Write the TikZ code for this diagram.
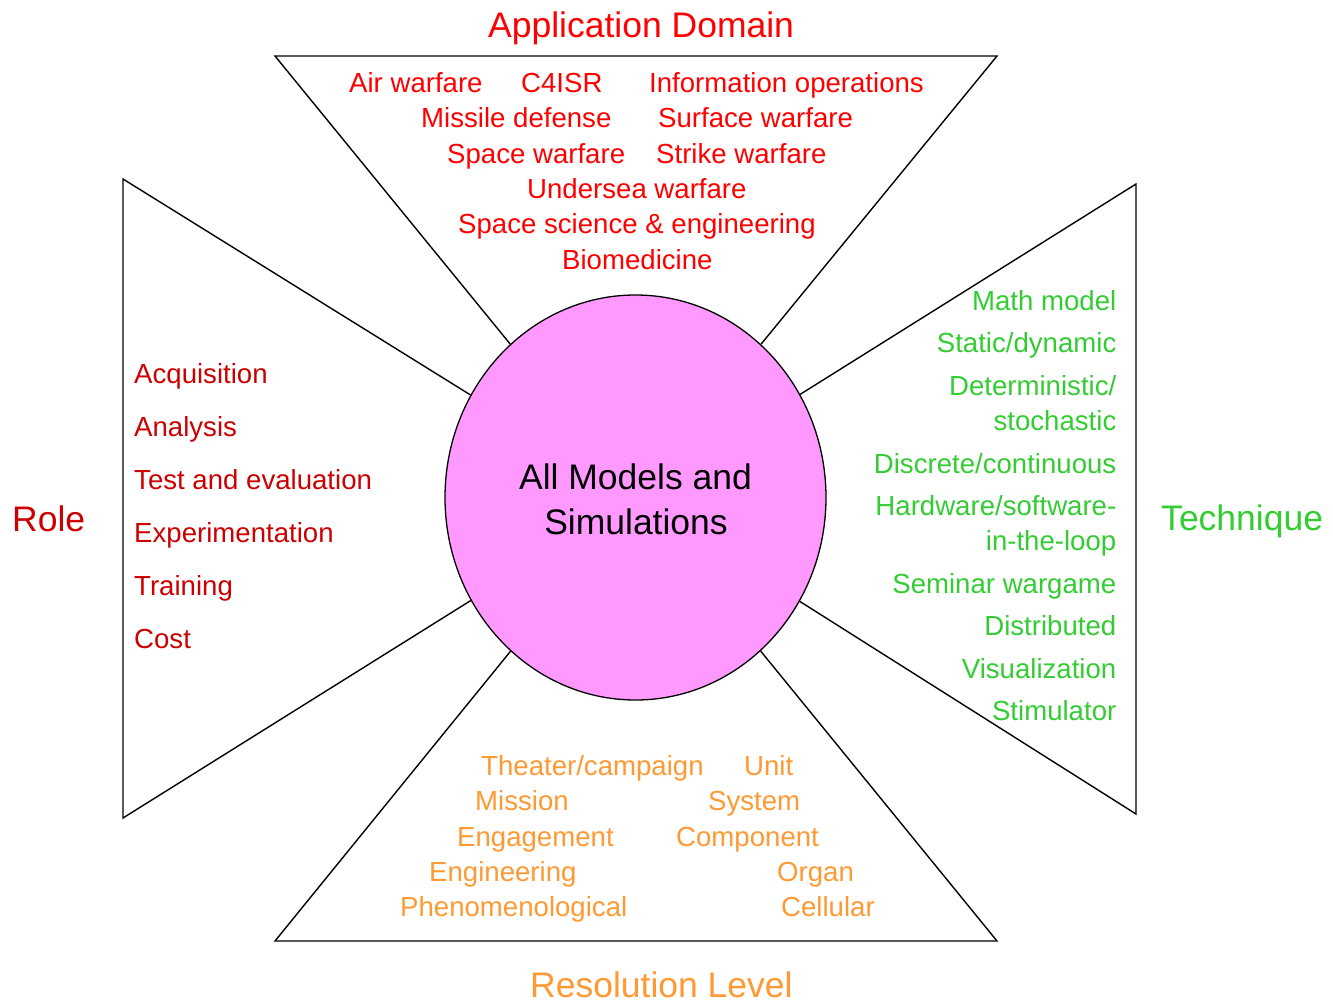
\documentclass[tikz,border=0pt]{standalone}
\usepackage{fontspec}
\setmainfont{Liberation Sans}
\usetikzlibrary{shapes.geometric}
\definecolor{domred}{HTML}{FF0000}
\definecolor{rolered}{HTML}{CC0000}
\definecolor{techgreen}{HTML}{33CC33}
\definecolor{resorange}{HTML}{FF9933}
\definecolor{hubpink}{HTML}{FF99FF}
\begin{document}
\begin{tikzpicture}[x=1pt,y=-1pt,
  hub/.style={ellipse, draw=black, line width=1.3pt, fill=hubpink, minimum width=381pt, minimum height=405pt, inner sep=0pt},
  edge/.style={draw=black, line width=1.4pt, line join=miter},
  lab/.style={inner sep=0pt, font=\fontsize{27.6}{33}\selectfont},
  ttl/.style={inner sep=0pt, font=\fontsize{35.5}{45}\selectfont},
  lw/.style={lab, anchor=base west},
  le/.style={lab, anchor=base east}]
\useasboundingbox (0,0) rectangle (1333,1002);

% wedges
\coordinate (tl) at (275,56);
\coordinate (tr) at (997,56);
\coordinate (lt) at (123,179);
\coordinate (lb) at (123,818);
\coordinate (rt) at (1136,184);
\coordinate (rb) at (1136,814);
\coordinate (bl) at (275,941);
\coordinate (br) at (997,941);

\node[hub] (mid) at (635.5,497.5) {};
\draw[edge] (mid) -- (tl) -- (tr) -- (mid);
\draw[edge] (mid) -- (lt) -- (lb) -- (mid);
\draw[edge] (mid) -- (rt) -- (rb) -- (mid);
\draw[edge] (mid) -- (bl) -- (br) -- (mid);

% centre text
\node[ttl, anchor=base] (c1) at (635.5,489) {All Models and};
\node[ttl, anchor=base] (c2) at (636,534) {Simulations};

% Application domain
\node[ttl, anchor=base west, text=domred] (tdom) at (488,37) {Application Domain};
\begin{scope}[text=domred]
\node[lw] (d1) at (349,92) {Air warfare};
\node[lw] (d2) at (521,92) {C4ISR};
\node[lw] (d3) at (649,92) {Information operations};
\node[lw] (d4) at (421,127.5) {Missile defense};
\node[lw] (d5) at (658,127.5) {Surface warfare};
\node[lw] (d6) at (447,163) {Space warfare};
\node[lw] (d7) at (656,163) {Strike warfare};
\node[lw] (d8) at (527,198) {Undersea warfare};
\node[lw] (d9) at (458,233.5) {Space science \& engineering};
\node[lw] (d10) at (562,269) {Biomedicine};
\end{scope}

% Role
\node[ttl, anchor=base west, text=rolered] (trole) at (12,531) {Role};
\begin{scope}[text=rolered]
\node[lw] (r1) at (134,383) {Acquisition};
\node[lw] (r2) at (134,436) {Analysis};
\node[lw] (r3) at (134,489) {Test and evaluation};
\node[lw] (r4) at (134,542) {Experimentation};
\node[lw] (r5) at (134,595) {Training};
\node[lw] (r6) at (134,648) {Cost};
\end{scope}

% Technique
\node[ttl, anchor=base west, text=techgreen] (ttech) at (1161,530) {Technique};
\begin{scope}[text=techgreen]
\node[le] (k1) at (1116.5,310.5) {Math model};
\node[le] (k2) at (1116.5,352.5) {Static/dynamic};
\node[le] (k3) at (1116.5,395.5) {Deterministic/};
\node[le] (k4) at (1116.5,430.5) {stochastic};
\node[le] (k5) at (1116.5,473) {Discrete/continuous};
\node[le] (k6) at (1116.5,515.5) {Hardware/software-};
\node[le] (k7) at (1116.5,550.5) {in-the-loop};
\node[le] (k8) at (1116.5,593.5) {Seminar wargame};
\node[le] (k9) at (1116.5,635.5) {Distributed};
\node[le] (k10) at (1116.5,678.5) {Visualization};
\node[le] (k11) at (1116.5,720.5) {Stimulator};
\end{scope}

% Resolution level
\node[ttl, anchor=base west, text=resorange] (tres) at (530,997) {Resolution Level};
\begin{scope}[text=resorange]
\node[lw] (s1) at (481,775) {Theater/campaign};
\node[lw] (s2) at (744,775) {Unit};
\node[lw] (s3) at (475,810) {Mission};
\node[lw] (s4) at (708,810) {System};
\node[lw] (s5) at (457,846) {Engagement};
\node[lw] (s6) at (676,846) {Component};
\node[lw] (s7) at (429,881) {Engineering};
\node[lw] (s8) at (777,881) {Organ};
\node[lw] (s9) at (400,916) {Phenomenological};
\node[lw] (s10) at (781,916) {Cellular};
\end{scope}
\end{tikzpicture}
\end{document}
